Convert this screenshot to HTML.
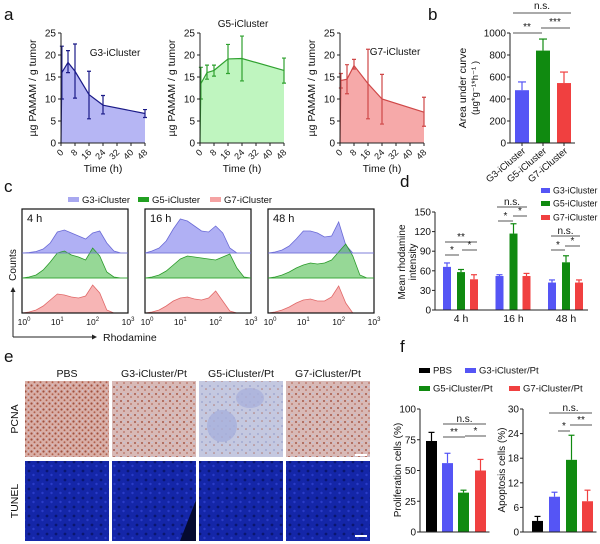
<!DOCTYPE html>
<html><head><meta charset="utf-8"><style>
html,body{margin:0;padding:0;background:#fff;}
svg{display:block;font-family:"Liberation Sans",Arial,sans-serif;}
</style></head><body>
<svg id="fig" width="600" height="544" viewBox="0 0 600 544" xmlns="http://www.w3.org/2000/svg">
<defs>
<pattern id="pcna" width="6" height="6" patternUnits="userSpaceOnUse"><rect width="6" height="6" fill="#d9aea6"/><circle cx="1.5" cy="1.5" r="1.1" fill="#a0503e"/><circle cx="4.5" cy="4.2" r="1" fill="#b0604c"/><circle cx="4.5" cy="1" r="0.6" fill="#c9c9e0"/></pattern>
<pattern id="pcna2" width="7" height="7" patternUnits="userSpaceOnUse"><rect width="7" height="7" fill="#d8b9b6"/><circle cx="2" cy="2" r="1" fill="#a75a4a"/><circle cx="5" cy="5" r="0.9" fill="#b86e5e"/><circle cx="5" cy="1.5" r="0.8" fill="#c0c4dc"/></pattern>
<pattern id="pcna5" width="8" height="8" patternUnits="userSpaceOnUse"><rect width="8" height="8" fill="#c4c8e0"/><circle cx="2" cy="2" r="0.9" fill="#9aa0cc"/><circle cx="6" cy="5" r="0.8" fill="#b07870"/></pattern>
<pattern id="tunel" width="9" height="9" patternUnits="userSpaceOnUse"><rect width="9" height="9" fill="#1426a8"/><circle cx="2" cy="3" r="1.4" fill="#0a1670"/><circle cx="6.5" cy="7" r="1.2" fill="#2a3cc8"/></pattern>
</defs>
<g id="root"></g>
</svg>
<script>
// ---------- DATA ----------
const aTimes = [0.5, 4, 8, 16, 24, 48];
const g3Vals = [16, 18.3, 16.3, 11, 8.6, 6.7];
const g3Hi = [22, 21, 22.5, 16.3, 10.8, 7.6];
const g3Lo = [10, 16, 10.2, 5.5, 6.6, 5.8];
const g5Vals = [13.5, 16, 16.5, 19.1, 19.2, 16.5];
const g5Hi = [17.2, 17.7, 17.7, 22.4, 24.3, 19.3];
const g5Lo = [10, 14.5, 15.2, 15.8, 14.1, 13.6];
const g7Vals = [14.2, 14.5, 17.6, 13.5, 10, 7];
const g7Hi = [15.8, 17.8, 19, 21.3, 15.6, 10.4];
const g7Lo = [12.5, 11.2, 16.8, 5.5, 4.3, 3.8];
const aTicksY = [0, 5, 10, 15, 20, 25];
const aTicksX = [0, 8, 16, 24, 32, 40, 48];

const bCats = ["G3-iCluster", "G5-iCluster", "G7-iCluster"];
const bVals = [480, 840, 545];
const bErr = [555, 945, 645];
const bTicks = [0, 200, 400, 600, 800, 1000];

const cTimes = ["4 h", "16 h", "48 h"];
const histBlue = [
 [0,0.5,1.5,4,10,21,23,20,17,14,20,22,10,2,0,0],
 [0,2,5,12,24,34,32,27,22,21,27,20,5,0,0,0],
 [0,1,3,7,14,22,22,20,16,17,31,8,0,0,0,0]];
const histGreen = [
 [0,1,3,8,16,25,27,23,21,18,30,22,6,1,0,0],
 [0,1,3,7,13,19,22,21,20,19,18,21,24,10,1,0],
 [0,1,3,6,10,13,15,14,15,18,26,34,22,3,0,0]];
const histRed = [
 [0,1,3,7,13,19,18,16,15,17,28,20,3,0,0,0],
 [0,1,3,7,12,15,16,14,13,15,22,12,2,0,0,0],
 [0,1,3,6,10,13,14,12,12,16,27,10,0,0,0,0]];

const dGroups = ["4 h", "16 h", "48 h"];
const dG3 = [66, 52, 42], dG3e = [72, 54, 46];
const dG5 = [58, 117, 73], dG5e = [62, 132, 83];
const dG7 = [47, 52, 42], dG7e = [54, 56, 46];
const dTicks = [0, 30, 60, 90, 120, 150];

const fProl = [74, 56, 32, 50], fProlE = [81, 64, 34, 59];
const fApop = [2.7, 8.6, 17.6, 7.5], fApopE = [3.8, 9.7, 23.6, 10.2];
const fProlTicks = [0, 25, 50, 75, 100];
const fApopTicks = [0, 6, 12, 18, 24, 30];

// ---------- HELPERS ----------
const NS = "http://www.w3.org/2000/svg";
const root = document.getElementById("root");
function mk(tag, attrs, parent) {
  const e = document.createElementNS(NS, tag);
  for (const k in attrs) e.setAttribute(k, attrs[k]);
  (parent || root).appendChild(e);
  return e;
}
function txt(x, y, s, size, anchor, extra) {
  const t = mk("text", Object.assign({x: x, y: y, "font-size": size, "text-anchor": anchor || "start", fill: "#111"}, extra || {}));
  t.textContent = s;
  return t;
}
function lin(x1, y1, x2, y2, col, w) {
  return mk("line", {x1: x1, y1: y1, x2: x2, y2: y2, stroke: col || "#222", "stroke-width": w || 1});
}

// panel letters
[["a",4,20],["b",428,20],["c",4,192],["d",400,187],["e",4,362],["f",400,352]].forEach(p => {
  const t = txt(p[1], p[2], p[0], 17, "start");
  
  
});

// ---------- PANEL A ----------
function panelA(x0, vals, hi, lo, fill, stroke, title, tx, ty) {
  const x1 = x0 + 84, yb = 143, yt = 33;
  const sx = t => x0 + t / 48 * (x1 - x0);
  const sy = v => yb - v / 25 * (yb - yt);
  const g = mk("g", {});
  
  
  let d = "M" + sx(0) + "," + sy(0);
  aTimes.forEach((t, i) => d += " L" + sx(t) + "," + sy(vals[i]));
  d += " L" + sx(48) + "," + sy(0) + " Z";
  const area = mk("path", {d: d, fill: fill, stroke: "none"}, g);
  
  
  let dl = "M" + sx(0) + "," + sy(0);
  aTimes.forEach((t, i) => dl += " L" + sx(t) + "," + sy(vals[i]));
  const line = mk("path", {d: dl, fill: "none", stroke: stroke, "stroke-width": 1.2}, g);
  
  
  aTimes.forEach((t, i) => {
    const eb = mk("path", {d: "M" + sx(t) + "," + sy(hi[i]) + " V" + sy(lo[i]) + " M" + (sx(t) - 2) + "," + sy(hi[i]) + " h4 M" + (sx(t) - 2) + "," + sy(lo[i]) + " h4", stroke: stroke, "stroke-width": 1.2, fill: "none"}, g);
    
    
  });
  lin(x0, yt, x0, yb);
  lin(x0, yb, x1, yb);
  aTicksY.forEach(v => { lin(x0 - 3, sy(v), x0, sy(v)); txt(x0 - 5, sy(v) + 3.5, String(v), 10, "end"); });
  aTicksX.forEach(v => {
    lin(sx(v), yb, sx(v), yb + 3);
    txt(sx(v) + 3, yb + 10, String(v), 9, "end", {transform: "rotate(-45 " + (sx(v) + 3) + " " + (yb + 10) + ")"});
  });
  txt(x0 + 42, 172, "Time (h)", 10.5, "middle");
  txt(x0 - 25, 88, "µg PAMAM / g tumor", 10.5, "middle", {transform: "rotate(-90 " + (x0 - 25) + " 88)"});
  txt(tx, ty, title, 10, "middle");
}
panelA(61, g3Vals, g3Hi, g3Lo, "#b6b6f4", "#1b1b88", "G3-iCluster", 115, 56);
panelA(200, g5Vals, g5Hi, g5Lo, "#bff5bf", "#2fa12f", "G5-iCluster", 243, 27);
panelA(340, g7Vals, g7Hi, g7Lo, "#f6a9a9", "#cf4848", "G7-iCluster", 395, 55);

// ---------- PANEL B ----------
(function () {
  const x0 = 510, yb = 143, yt = 33;
  const sy = v => yb - v / 1000 * (yb - yt);
  const cols = ["#5555f5", "#108a10", "#f04040"];
  const cx = [522, 543, 564];
  bCats.forEach((c, i) => {
    const eb = lin(cx[i], sy(bErr[i]), cx[i], sy(bVals[i]), cols[i], 1.2);
    
    
    lin(cx[i] - 4, sy(bErr[i]), cx[i] + 4, sy(bErr[i]), cols[i], 1.2);
    const r = mk("rect", {x: cx[i] - 7, y: sy(bVals[i]), width: 14, height: yb - sy(bVals[i]), fill: cols[i]});
    
    
    lin(cx[i], yb, cx[i], yb + 3);
    txt(cx[i] + 4, yb + 9, c, 9.5, "end", {transform: "rotate(-40 " + (cx[i] + 4) + " " + (yb + 9) + ")"});
  });
  lin(x0, yt, x0, yb);
  lin(x0, yb, 575, yb);
  bTicks.forEach(v => { lin(x0 - 3, sy(v), x0, sy(v)); txt(x0 - 4, sy(v) + 3.5, String(v), 10, "end"); });
  txt(466, 88, "Area under curve", 10.5, "middle", {transform: "rotate(-90 466 88)"});
  txt(478, 88, "(µg*g⁻¹*h⁻¹ )", 9.5, "middle", {transform: "rotate(-90 478 88)"});
  lin(513, 33, 542, 33, "#555"); txt(527, 30, "**", 10, "middle");
  lin(541, 28, 570, 28, "#555"); txt(555, 25, "***", 10, "middle");
  lin(513, 13, 571, 13, "#555"); txt(542, 9, "n.s.", 10, "middle");
})();

// ---------- PANEL C ----------
(function () {
  const legCols = [["#a8a8f0", "G3-iCluster", 68], ["#22a022", "G5-iCluster", 138], ["#f5a3a3", "G7-iCluster", 210]];
  legCols.forEach(l => {
    const r = mk("rect", {x: l[2], y: 197, width: 11, height: 5, fill: l[0]});
    
    
    txt(l[2] + 14, 203, l[1], 9.5, "start");
  });
  const boxes = [22, 145, 268];
  const fills = [["rgba(150,150,240,0.75)", "#6a6ad6"], ["rgba(80,190,80,0.6)", "#2a9a2a"], ["rgba(240,120,120,0.55)", "#e06868"]];
  const bases = [253, 278, 313];
  cTimes.forEach((tl, b) => {
    const L = boxes[b], W = 106, T = 209, B = 313;
    const sx = lg => L + lg / 3 * W;
    const g = mk("g", {});
    
    
    const cp = mk("clipPath", {id: "cp" + b}, g);
    mk("rect", {x: L, y: T, width: W, height: B - T}, cp);
    const gg = mk("g", {"clip-path": "url(#cp" + b + ")"}, g);
    [histBlue[b], histGreen[b], histRed[b]].forEach((h, k) => {
      let d = "M" + sx(0) + "," + bases[k];
      h.forEach((v, i) => d += " L" + sx(i * 0.2) + "," + (bases[k] - v));
      d += " L" + sx(3) + "," + bases[k] + " Z";
      const p = mk("path", {d: d, fill: fills[k][0], stroke: fills[k][1], "stroke-width": 0.8}, gg);
      
      
    });
    lin(L, 253, L + W, 253, "#7a7ad8", 0.8);
    lin(L, 278, L + W, 278, "#3aa83a", 0.8);
    mk("rect", {x: L, y: T, width: W, height: B - T, fill: "none", stroke: "#111", "stroke-width": 1.2}, g);
    txt(L + 5, T + 13, tl, 11, "start");
    ["10", "10", "10", "10"].forEach((s, i) => {
      const t = txt(sx(i) + (i === 0 ? 2 : 0), 325, s, 8.5, "middle");
      const ts = mk("tspan", {dy: -4, "font-size": 6}, t); ts.textContent = String(i);
    });
  });
  lin(13, 337, 92, 337, "#222", 1);
  mk("path", {d: "M92,334.5 L97,337 L92,339.5 Z", fill: "#222"});
  txt(103, 341, "Rhodamine", 10.5, "start");
  lin(13, 337, 13, 292, "#222", 1);
  mk("path", {d: "M10.5,292 L13,287 L15.5,292 Z", fill: "#222"});
  txt(16, 265, "Counts", 10, "middle", {transform: "rotate(-90 16 265)"});
})();

// ---------- PANEL D ----------
(function () {
  const x0 = 435, yb = 310, yt = 212;
  const sy = v => yb - v / 150 * (yb - yt);
  const series = [[dG3, dG3e, "#5555f5", 447], [dG5, dG5e, "#108a10", 461], [dG7, dG7e, "#f04040", 474]];
  const groupOff = [0, 52.5, 105];
  dGroups.forEach((gName, gi) => {
    series.forEach((s, si) => {
      const cx = s[3] + groupOff[gi];
      lin(cx, sy(s[1][gi]), cx, sy(s[0][gi]), s[2], 1.2);
      lin(cx - 3, sy(s[1][gi]), cx + 3, sy(s[1][gi]), s[2], 1.2);
      const r = mk("rect", {x: cx - 4, y: sy(s[0][gi]), width: 8, height: yb - sy(s[0][gi]), fill: s[2]});
      
      
    });
    txt(461 + groupOff[gi], 322, gName, 10.5, "middle");
  });
  lin(x0, yt, x0, yb);
  lin(x0, yb, 588, yb);
  dTicks.forEach(v => { lin(x0 - 3, sy(v), x0, sy(v)); txt(x0 - 4, sy(v) + 3.5, String(v), 10, "end"); });
  txt(405, 262, "Mean rhodamine", 10, "middle", {transform: "rotate(-90 405 262)"});
  txt(416, 262, "intensity", 10, "middle", {transform: "rotate(-90 416 262)"});
  const sig = [[445,459,255,"*"],[462,477,250,"*"],[445,477,242,"**"],[498,513,221,"*"],[513,527,216,"*"],[497,527,207,"n.s."],[551,565,250,"*"],[565,580,246,"*"],[551,580,236,"n.s."]];
  sig.forEach(s => { lin(s[0], s[2], s[1], s[2], "#555"); txt((s[0] + s[1]) / 2, s[2] - 2, s[3], 10, "middle"); });
  [["#5555f5","G3-iCluster",192],["#108a10","G5-iCluster",205],["#f04040","G7-iCluster",219]].forEach(l => {
    const r = mk("rect", {x: 541, y: l[2] - 4, width: 9, height: 5, fill: l[0]});
    
    
    txt(553, l[2] + 1.5, l[1], 8.8, "start");
  });
})();

// ---------- PANEL E ----------
(function () {
  const cols = ["PBS", "G3-iCluster/Pt", "G5-iCluster/Pt", "G7-iCluster/Pt"];
  const xs = [25, 112, 199, 286];
  const pfills = ["url(#pcna)", "url(#pcna2)", "url(#pcna5)", "url(#pcna2)"];
  cols.forEach((c, i) => {
    txt(xs[i] + 42, 377, c, 10.5, "middle");
    const r1 = mk("rect", {x: xs[i], y: 381, width: 84, height: 76, fill: pfills[i]});
    
    
    const r2 = mk("rect", {x: xs[i], y: 461, width: 84, height: 80, fill: "url(#tunel)"});
    
    
  });
  mk("ellipse", {cx: 250, cy: 398, rx: 14, ry: 10, fill: "#aab2dc", opacity: 0.8});
  mk("ellipse", {cx: 222, cy: 426, rx: 15, ry: 16, fill: "#a8b0dc", opacity: 0.8});
  mk("path", {d: "M180,541 L196,541 L196,500 Z", fill: "#050a30"});
  lin(355, 455, 367, 455, "#fff", 2);
  lin(355, 536, 367, 536, "#fff", 2);
  txt(18, 419, "PCNA", 10.5, "middle", {transform: "rotate(-90 18 419)"});
  txt(18, 501, "TUNEL", 10.5, "middle", {transform: "rotate(-90 18 501)"});
})();

// ---------- PANEL F ----------
(function () {
  const cols = ["#000", "#5555f5", "#108a10", "#f04040"];
  const names = ["PBS", "G3-iCluster/Pt", "G5-iCluster/Pt", "G7-iCluster/Pt"];
  [[0,419,372],[1,465,372],[2,419,390],[3,509,390]].forEach(l => {
    const r = mk("rect", {x: l[1], y: l[2] - 4, width: 11, height: 5, fill: cols[l[0]]});
    
    
    txt(l[1] + 14, l[2] + 1.5, names[l[0]], 9.5, "start");
  });
  function chart(x0, vals, errs, ticks, max, cxs, label, lx, sig) {
    const yb = 532, yt = 409;
    const sy = v => yb - v / max * (yb - yt);
    vals.forEach((v, i) => {
      lin(cxs[i], sy(errs[i]), cxs[i], sy(v), cols[i], 1.2);
      lin(cxs[i] - 3, sy(errs[i]), cxs[i] + 3, sy(errs[i]), cols[i], 1.2);
      const r = mk("rect", {x: cxs[i] - 5.5, y: sy(v), width: 11, height: yb - sy(v), fill: cols[i]});
      
      
    });
    lin(x0, yt, x0, yb);
    lin(x0, yb, cxs[3] + 9, yb);
    ticks.forEach(v => { lin(x0 - 3, sy(v), x0, sy(v)); txt(x0 - 4, sy(v) + 3.5, String(v), 10, "end"); });
    txt(lx, 470, label, 10, "middle", {transform: "rotate(-90 " + lx + " 470)"});
    sig.forEach(s => { lin(s[0], s[2], s[1], s[2], "#555"); txt((s[0] + s[1]) / 2, s[2] - 2, s[3], 10, "middle"); });
  }
  chart(420, fProl, fProlE, fProlTicks, 100, [431.5, 447.5, 463.5, 480.5], "Proliferation cells (%)", 401,
    [[443,465,437,"**"],[465,486,436,"*"],[443,486,424,"n.s."]]);
  chart(523, fApop, fApopE, fApopTicks, 30, [537.5, 554.5, 571.5, 587.5], "Apoptosis cells (%)", 505,
    [[558,570,431,"*"],[570,592,425,"**"],[549,592,413,"n.s."]]);
})();
</script>
</body></html>
